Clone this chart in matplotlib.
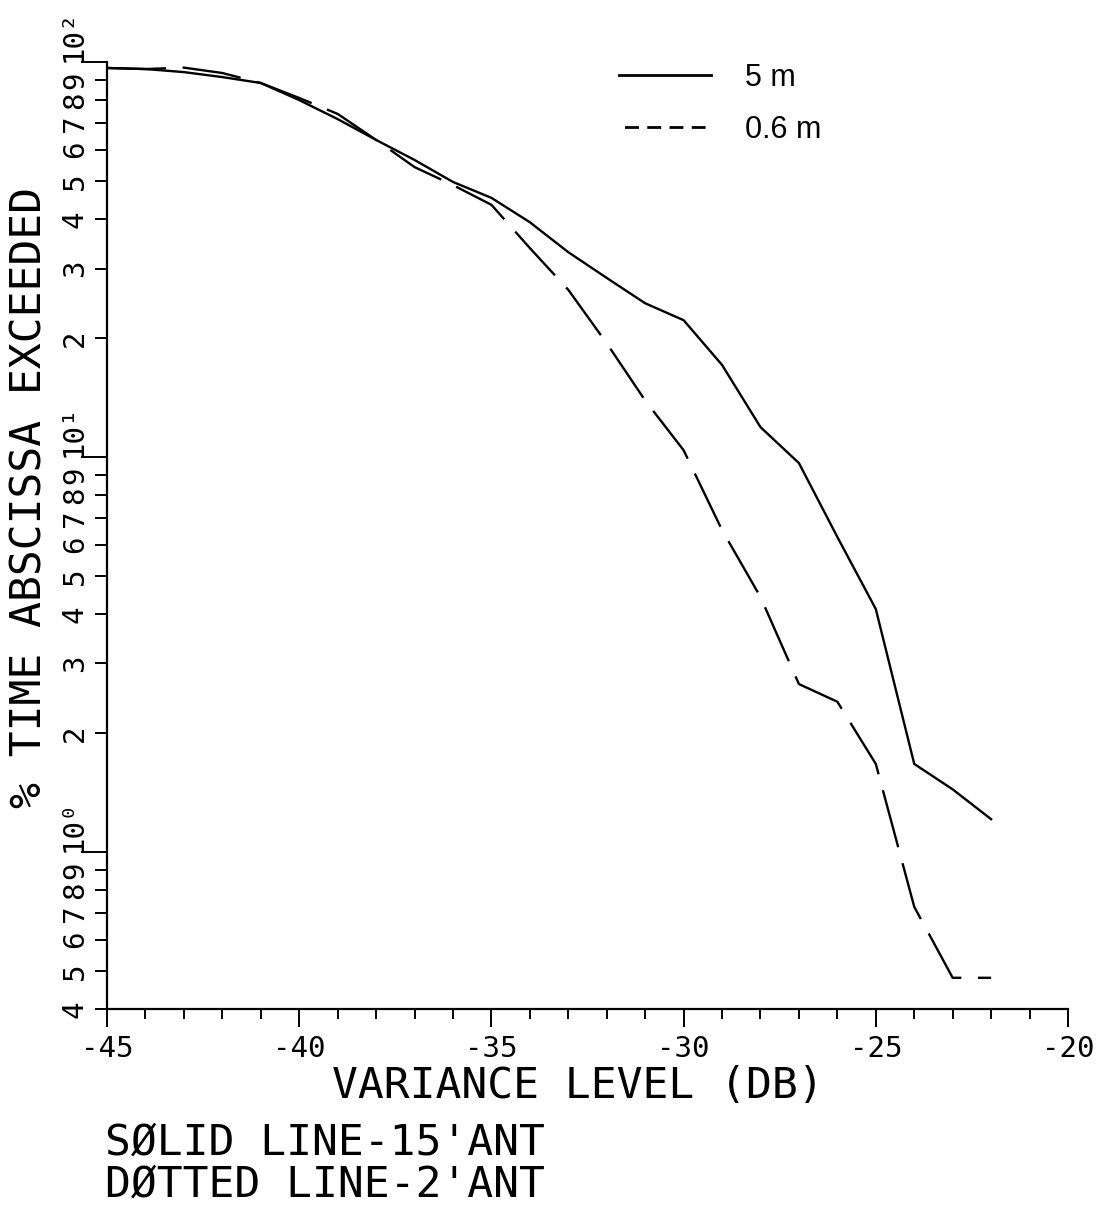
import matplotlib
matplotlib.use("Agg")
import matplotlib.pyplot as plt
from matplotlib.lines import Line2D

# Variance level (dB) and percentage of time the level is exceeded
levels = [-45, -44, -43, -42, -41, -40, -39, -38, -37, -36, -35, -34,
          -33, -32, -31, -30, -29, -28, -27, -26, -25, -24, -23, -22]
pct_5m = [96.6, 96.0, 94.3, 91.6, 88.5, 80.1, 71.7, 63.5, 56.5, 49.7, 45.3, 39.3,
          33.0, 28.4, 24.5, 22.2, 17.1, 11.9, 9.65, 6.27, 4.12, 1.67, 1.44, 1.21]
pct_06m = [96.6, 96.0, 96.8, 93.8, 88.5, 81.1, 73.9, 63.5, 54.2, 48.8, 43.5, 33.8,
           26.5, 19.4, 13.9, 10.4, 6.53, 4.42, 2.66, 2.40, 1.67, 0.726, 0.480, 0.480]

x_major = [-45, -40, -35, -30, -25, -20]
x_minor = list(range(-45, -19))
y_major = [1, 10, 100]
y_major_labels = ["10\u2070", "10\u00b9", "10\u00b2"]
y_minor = [0.4, 0.5, 0.6, 0.7, 0.8, 0.9] + [m * 1.0 for m in range(2, 10)] + [m * 10.0 for m in range(2, 10)]
y_minor_labels = ["4", "5", "6", "7", "8", "9"] + [str(m) for m in range(2, 10)] * 2

series_labels = ["5 m", "0.6 m"]
x_title = "VARIANCE LEVEL (DB)"
y_title = "% TIME ABSCISSA EXCEEDED"
notes = ["S\u00d8LID LINE-15'ANT", "D\u00d8TTED LINE-2'ANT"]

plt.rcParams["font.family"] = ["DejaVu Sans Mono", "DejaVu Sans"]
plt.rcParams["axes.unicode_minus"] = False

fig = plt.figure(figsize=(11.08, 12.07), dpi=100)
ax = fig.add_axes([0.0966, 0.164, 0.8673, 0.7846])

lw = 1.7
ax.plot(levels, pct_06m, color="black", lw=lw, linestyle=(0, (25, 7)))
ax.plot(levels, pct_5m, color="black", lw=lw, linestyle="-")

ax.set_xlim(-45, -20)
ax.set_yscale("log")
ax.set_ylim(0.4, 100)

for side in ("top", "right"):
    ax.spines[side].set_visible(False)
for side in ("left", "bottom"):
    ax.spines[side].set_linewidth(1.6)

ax.set_xticks(x_major, labels=[str(v) for v in x_major])
ax.set_xticks(x_minor, minor=True)
ax.tick_params(axis="x", which="major", direction="out", length=13, width=1.4,
               labelsize=21, pad=6)
ax.tick_params(axis="x", which="minor", direction="out", length=7, width=1.4)

ax.set_yticks(y_major, labels=y_major_labels)
ax.set_yticks(y_minor, labels=y_minor_labels, minor=True)
ax.tick_params(axis="y", which="major", direction="out", length=19, width=1.4,
               labelsize=21, pad=-5)
ax.tick_params(axis="y", which="minor", direction="out", length=9, width=1.4,
               labelsize=21, pad=4)
for t in ax.get_yticklabels():
    t.set_rotation(90)
    t.set_va("bottom")
for t in ax.get_yticklabels(minor=True):
    t.set_rotation(90)
    t.set_va("center")

fig.text(0.027, 0.588, y_title, rotation=90, ha="center", va="center", fontsize=31)
fig.text(0.5217, 0.0903, x_title, ha="center", va="baseline", fontsize=31)
fig.text(0.0948, 0.0431, notes[0], ha="left", va="baseline", fontsize=31)
fig.text(0.0948, 0.0083, notes[1], ha="left", va="baseline", fontsize=31)

handles = [Line2D([], [], color="black", lw=2.0, linestyle="-"),
           Line2D([], [], color="black", lw=2.0, linestyle=(6, (5.0, 3.0)))]
ax.legend(handles, series_labels, loc="upper left",
          bbox_to_anchor=(0.5452, 0.9605), bbox_transform=fig.transFigure,
          frameon=False, borderpad=0, handlelength=3.0, handletextpad=1.1,
          labelspacing=0.72, prop={"family": "Liberation Sans", "size": 22})

fig.savefig("out.png", dpi=100)
